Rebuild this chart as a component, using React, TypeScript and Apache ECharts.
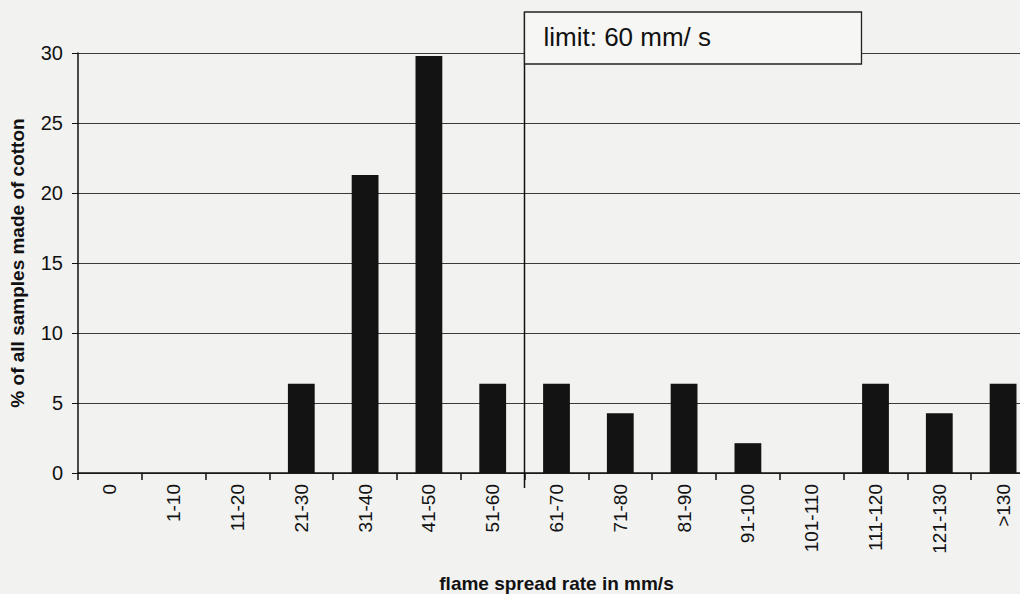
import React, { useEffect, useRef } from "react";
import * as echarts from "echarts";

const categories = ["0", "1-10", "11-20", "21-30", "31-40", "41-50", "51-60", "61-70", "71-80", "81-90", "91-100", "101-110", "111-120", "121-130", ">130"];
const shares = [0, 0, 0, 6.38, 21.28, 29.79, 6.38, 6.38, 4.26, 6.38, 2.13, 0, 6.38, 4.26, 6.38];
const yTicks = [0, 5, 10, 15, 20, 25, 30];
const limitRate = 60;
const limitLabel = "limit: 60 mm/ s";
const yTitle = "% of all samples made of cotton";
const xTitle = "flame spread rate in mm/s";

const FONT = "'Liberation Sans', Arial, sans-serif";

export default function App() {
  const ref = useRef<HTMLDivElement>(null);
  useEffect(() => {
    if (!ref.current) return;
    const chart = echarts.init(ref.current, null, { renderer: "svg" });
    const option: any = {
      animation: false,
      backgroundColor: "#f2f2f1",
      textStyle: { fontFamily: FONT },
      grid: { left: 78, top: 53, width: 957, bottom: 121, containLabel: false, outerBoundsMode: "none" },
      xAxis: [
        {
          type: "category",
          data: categories,
          boundaryGap: true,
          axisLine: { show: true, lineStyle: { color: "#111", width: 1.5 } },
          axisTick: { show: true, length: 7, lineStyle: { color: "#111", width: 1.5 } },
          axisLabel: { rotate: 90, fontSize: 19, color: "#111", margin: 11, fontFamily: FONT, interval: 0 },
          name: xTitle,
          nameLocation: "middle",
          nameGap: 101,
          nameTextStyle: { fontSize: 19, fontWeight: "bold", color: "#111", fontFamily: FONT },
        },
        { type: "value", min: -10, max: 140, show: false },
      ],
      yAxis: {
        type: "value",
        min: yTicks[0],
        max: yTicks[yTicks.length - 1],
        interval: 5,
        axisLine: { show: true, onZero: false, lineStyle: { color: "#111", width: 1.5 } },
        axisTick: { show: true, length: 6, lineStyle: { color: "#111" } },
        axisLabel: { fontSize: 20, color: "#111", margin: 15, fontFamily: FONT },
        splitLine: { show: true, lineStyle: { color: "#3a3a3a", width: 1.2 } },
        name: yTitle,
        nameLocation: "middle",
        nameGap: 51,
        nameTextStyle: { fontSize: 19, fontWeight: "bold", color: "#111", fontFamily: FONT },
      },
      series: [
        {
          type: "bar",
          data: shares,
          barWidth: "42%",
          itemStyle: { color: "#131313" },
        },
      ],
    };
    chart.setOption(option);
    const px = chart.convertToPixel({ xAxisIndex: 1 }, limitRate) as number;
    const x = Math.round(px) - 0.5;
    chart.setOption({
      graphic: [
        { type: "line", shape: { x1: x, y1: 12, x2: x, y2: 488 }, style: { stroke: "#111", lineWidth: 1.5 }, z: 100 },
        { type: "rect", shape: { x: x, y: 12, width: 337, height: 52 }, style: { fill: "#f6f6f5", stroke: "#222", lineWidth: 1.3 }, z: 101 },
        { type: "text", x: x + 19, y: 37, style: { text: limitLabel, fontSize: 26, fill: "#111", fontFamily: FONT, verticalAlign: "middle" }, z: 102 },
      ],
    });
    return () => chart.dispose();
  }, []);
  return <div ref={ref} style={{ position: "fixed", left: 0, top: 0, width: 1040, height: 594 }} />;
}
